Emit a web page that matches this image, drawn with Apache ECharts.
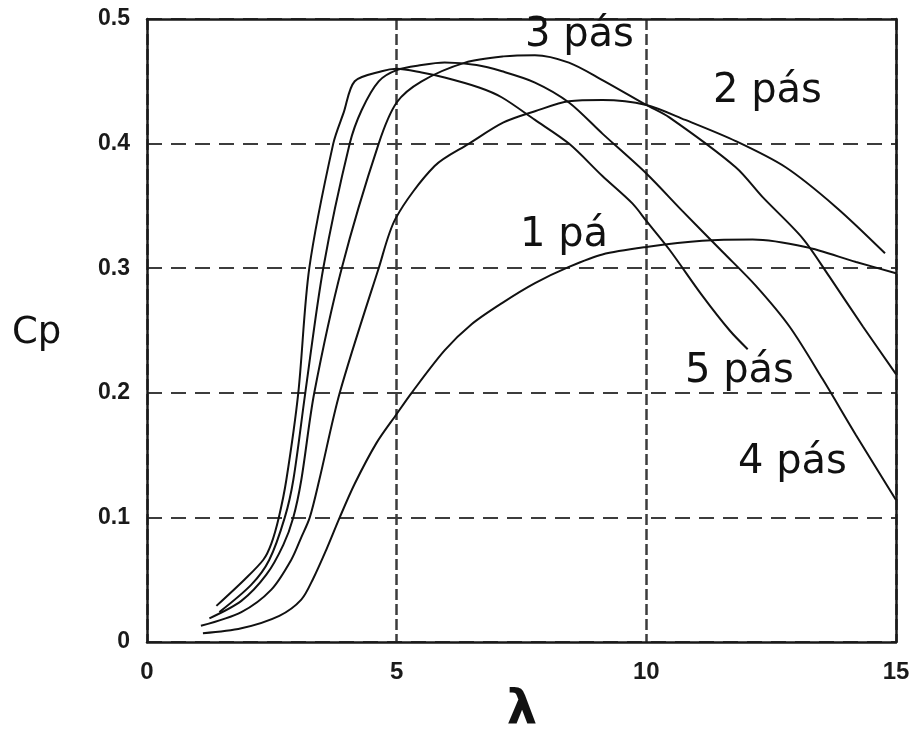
<!DOCTYPE html>
<html>
<head>
<meta charset="utf-8">
<script src="https://cdn.jsdelivr.net/npm/echarts@6/dist/echarts.min.js"></script>
<style>
  html, body { margin: 0; padding: 0; background: #ffffff; }
  #chart { width: 913px; height: 731px; }
</style>
</head>
<body>
<div id="chart"></div>
<script>
// Tick values
var xTicks = [0, 5, 10, 15];
var yTicks = [0, 0.1, 0.2, 0.3, 0.4, 0.5];

// Curve labels
var seriesNames = ['1 pá', '2 pás', '3 pás', '4 pás', '5 pás'];

// Cp vs tip speed ratio (λ)
var pas1 = [[1.12,0.007],[1.89,0.011],[2.65,0.021],[3.09,0.034],[3.33,0.051],[3.59,0.074],[3.86,0.100],[4.16,0.127],[4.60,0.160],[5.00,0.183],[5.30,0.200],[5.96,0.234],[6.50,0.255],[7.11,0.272],[7.77,0.288],[8.45,0.301],[9.12,0.311],[10.0,0.317],[11.12,0.322],[12.13,0.323],[13.19,0.317],[14.20,0.305],[15.0,0.296]];
var pas2 = [[1.08,0.013],[1.89,0.024],[2.49,0.042],[2.89,0.066],[3.09,0.084],[3.26,0.100],[3.45,0.130],[3.86,0.200],[4.64,0.300],[4.98,0.340],[5.76,0.382],[6.45,0.400],[7.14,0.417],[7.77,0.426],[8.45,0.434],[9.12,0.435],[10.0,0.431],[10.78,0.419],[11.79,0.402],[12.79,0.381],[13.80,0.349],[14.78,0.312]];
var pas3 = [[1.25,0.019],[1.89,0.033],[2.39,0.054],[2.73,0.078],[2.93,0.100],[3.09,0.130],[3.35,0.200],[3.90,0.300],[4.64,0.400],[5.00,0.433],[5.50,0.450],[6.37,0.465],[7.14,0.470],[7.77,0.471],[8.45,0.465],[9.12,0.451],[10.0,0.431],[10.46,0.421],[11.79,0.381],[12.33,0.357],[13.13,0.324],[13.67,0.293],[14.34,0.253],[15.0,0.215]];
var pas4 = [[1.45,0.024],[2.09,0.046],[2.45,0.066],[2.76,0.100],[2.93,0.130],[3.17,0.200],[3.53,0.300],[4.06,0.400],[4.30,0.427],[4.64,0.450],[5.00,0.459],[5.50,0.463],[5.96,0.465],[6.60,0.463],[7.11,0.458],[7.77,0.449],[8.45,0.433],[9.12,0.408],[10.0,0.376],[10.72,0.346],[11.53,0.313],[12.19,0.286],[12.87,0.253],[13.53,0.211],[14.20,0.166],[15.0,0.114]];
var pas5 = [[1.39,0.029],[1.95,0.050],[2.33,0.066],[2.49,0.079],[2.64,0.100],[2.79,0.130],[3.03,0.200],[3.25,0.300],[3.73,0.400],[3.94,0.425],[4.16,0.450],[4.70,0.458],[5.00,0.460],[5.50,0.457],[5.96,0.453],[6.65,0.445],[7.11,0.437],[7.77,0.419],[8.45,0.400],[9.12,0.374],[9.72,0.352],[10.0,0.338],[10.46,0.315],[11.12,0.278],[11.67,0.250],[12.03,0.235]];

var seriesData = [pas1, pas2, pas3, pas4, pas5];

var chart = echarts.init(document.getElementById('chart'), null, { renderer: 'canvas' });

var tickFont = { fontFamily: 'Liberation Sans, Arial, sans-serif', fontWeight: 'bold', color: '#1a1a1a' };
var labelFont = '40px "DejaVu Sans", Verdana, sans-serif';

var series = seriesData.map(function (d, i) {
  return {
    name: seriesNames[i],
    type: 'line',
    data: d,
    smooth: 0.3,
    symbol: 'none',
    lineStyle: { color: '#111111', width: 2 },
    z: 3,
    silent: true
  };
});

function txt(s, x, y, font, align) {
  return {
    type: 'text', x: x, y: y, z: 10, silent: true,
    style: { text: s, font: font, fill: '#111111', textAlign: align || 'left', textVerticalAlign: 'middle' }
  };
}

chart.setOption({
  animation: false,
  backgroundColor: '#ffffff',
  grid: { left: 147, right: 17, top: 19, bottom: 89, containLabel: false, outerBoundsMode: 'none' },
  xAxis: [{
    type: 'value', min: xTicks[0], max: xTicks[xTicks.length - 1], interval: 5,
    axisLine: { show: true, onZero: false, lineStyle: { color: '#1a1a1a', width: 2.5 } },
    axisTick: { show: false },
    axisLabel: Object.assign({ fontSize: 24, margin: 18 }, tickFont),
    splitLine: { show: true, lineStyle: { color: '#3c3c3c', width: 2.5, type: [11, 4] } }
  }, {
    type: 'value', position: 'top', min: 0, max: 15, interval: 5,
    axisLine: { show: true, onZero: false, lineStyle: { color: '#1a1a1a', width: 2.5 } },
    axisTick: { show: false }, axisLabel: { show: false }, splitLine: { show: false }
  }],
  yAxis: [{
    type: 'value', min: yTicks[0], max: yTicks[yTicks.length - 1], interval: 0.1,
    axisLine: { show: true, onZero: false, lineStyle: { color: '#1a1a1a', width: 2.5 } },
    axisTick: { show: false },
    axisLabel: Object.assign({ fontSize: 23, margin: 17 }, tickFont),
    splitLine: { show: true, lineStyle: { color: '#3c3c3c', width: 2, type: [15, 9] } }
  }, {
    type: 'value', position: 'right', min: 0, max: 0.5, interval: 0.1,
    axisLine: { show: true, onZero: false, lineStyle: { color: '#1a1a1a', width: 2.5 } },
    axisTick: { show: false }, axisLabel: { show: false }, splitLine: { show: false }
  }],
  series: series,
  graphic: [
    txt('3 pás', 525, 36, labelFont),
    txt('2 pás', 713, 92, labelFont),
    txt('1 pá', 520, 236, labelFont),
    txt('5 pás', 685, 372, labelFont),
    txt('4 pás', 738, 463, labelFont),
    txt('Cp', 12, 333, '37px "DejaVu Sans", Verdana, sans-serif'),
    txt('λ', 522, 712, 'bold 48px "DejaVu Sans", sans-serif', 'center')
  ]
});
</script>
</body>
</html>
